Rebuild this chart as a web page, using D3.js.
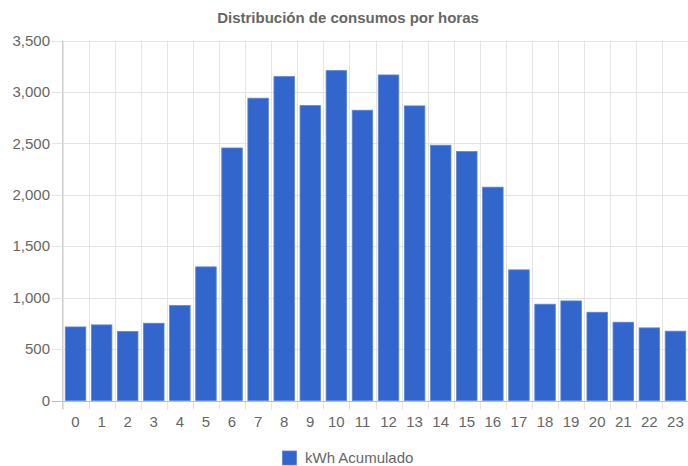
<!DOCTYPE html>
<html><head><meta charset="utf-8">
<script src="https://cdn.jsdelivr.net/npm/d3@7"></script>
<style>body{margin:0;background:#fff}svg{display:block;font-family:"Liberation Sans",Arial,sans-serif}</style>
</head><body><svg id="c" width="688" height="466"></svg>
<script>
const hours = ["0","1","2","3","4","5","6","7","8","9","10","11","12","13","14","15","16","17","18","19","20","21","22","23"];
const kwh = [715,735,670,751,923,1299,2455,2939,3149,2867,3207,2822,3165,2864,2482,2420,2074,1270,936,968,858,761,706,674];
const yTicks = [0,500,1000,1500,2000,2500,3000,3500];
const title = "Distribución de consumos por horas";
const seriesName = "kWh Acumulado";

const svg = d3.select("#c");
const x = d3.scaleBand().domain(hours).range([62.5, 688.5]).paddingInner(0).paddingOuter(0);
const y = d3.scaleLinear().domain([0, 3500]).range([400.5, 40.5]);
const fmt = d3.format(",");
const col = "#3366cc";

// vertical grid
const xg = svg.append("g");
const edges = hours.map(h => x(h)).concat([x.range()[1]]);
xg.selectAll("line").data(edges).join("line")
  .attr("x1", d => Math.round(d)+0.5).attr("x2", d => Math.round(d)+0.5)
  .attr("y1", y(3500)).attr("y2", y(0)+9)
  .attr("stroke", "#e4e4e4");
// horizontal grid
svg.append("g").selectAll("line").data(yTicks).join("line")
  .attr("x1", 52).attr("x2", 688)
  .attr("y1", d => Math.round(y(d))+0.5).attr("y2", d => Math.round(y(d))+0.5)
  .attr("stroke", d => d === 0 ? "#bdbdbd" : "#e4e4e4");
// y axis line
svg.append("line").attr("x1", 62.5).attr("x2", 62.5).attr("y1", y(3500)).attr("y2", y(0)+9).attr("stroke", "#cfcfcf");

// bars
const bw = 20.5;
svg.append("g").selectAll("rect").data(kwh).join("rect")
  .attr("x", (d,i) => x(hours[i]) + x.bandwidth()/2 - bw/2)
  .attr("width", bw)
  .attr("y", d => y(d))
  .attr("height", d => y(0) - y(d))
  .attr("fill", col)
  .attr("stroke", "#5a84d6").attr("stroke-width", 0.8);

// y labels
svg.append("g").selectAll("text").data(yTicks).join("text")
  .attr("x", 50).attr("y", d => y(d)).attr("dy", "0.35em")
  .attr("text-anchor", "end").attr("fill", "#666").attr("font-size", 15)
  .text(d => fmt(d));
// x labels
svg.append("g").selectAll("text").data(hours).join("text")
  .attr("x", d => x(d) + x.bandwidth()/2).attr("y", 421.5).attr("dy", "0.35em")
  .attr("text-anchor", "middle").attr("fill", "#666").attr("font-size", 15)
  .text(d => d);

// title
svg.append("text").attr("x", 348).attr("y", 18).attr("dy", "0.35em")
  .attr("text-anchor", "middle").attr("fill", "#666").attr("font-size", 15).attr("font-weight", "bold")
  .text(title);

// legend
svg.append("rect").attr("x", 282.5).attr("y", 451).attr("width", 14).attr("height", 14)
  .attr("fill", col).attr("stroke", "#5a84d6").attr("stroke-width", 0.8);
svg.append("text").attr("x", 305).attr("y", 458).attr("dy", "0.35em")
  .attr("fill", "#666").attr("font-size", 15).text(seriesName);
</script></body></html>
